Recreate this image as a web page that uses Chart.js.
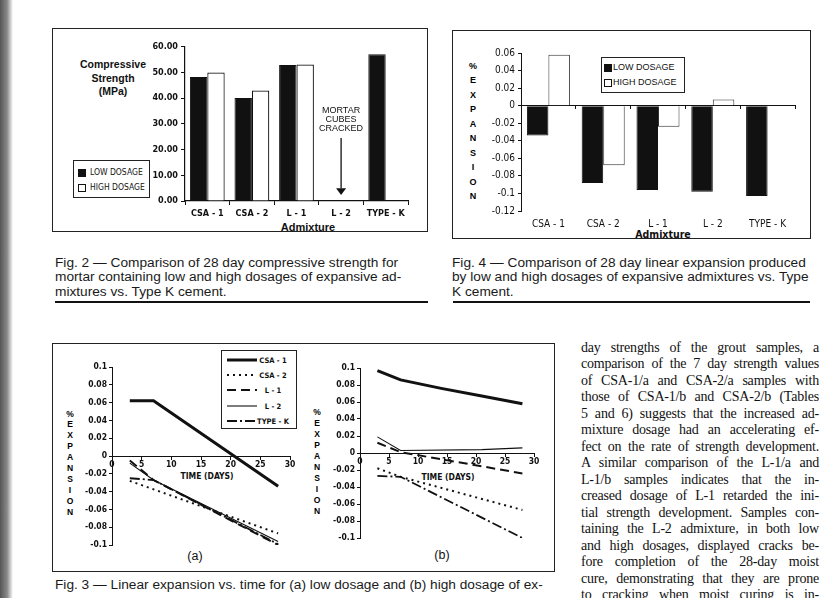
<!DOCTYPE html>
<html><head><meta charset="utf-8">
<script src="https://cdn.jsdelivr.net/npm/chart.js@4.4.1/dist/chart.umd.min.js"></script>
<style>
html,body{margin:0;padding:0;background:#fff;}
body{width:820px;height:598px;position:relative;overflow:hidden;font-family:'Liberation Sans',Arial,sans-serif;color:#111;}
.box{position:absolute;border:1.5px solid #222;box-sizing:border-box;}
.c{position:absolute;transform:translate(-50%,-50%);white-space:nowrap;}
.narrow{font-family:'Liberation Sans Narrow','Arial Narrow','DejaVu Sans Condensed',sans-serif;}
.cap{position:absolute;font-size:13.7px;line-height:14.4px;color:#1a1a1a;white-space:nowrap;}
.vert{position:absolute;transform:translateX(-50%);text-align:center;font-weight:bold;font-size:8.5px;color:#000;}
.bl{position:absolute;left:581px;width:238px;height:16.5px;line-height:16.5px;font-family:'Liberation Serif','Times New Roman',serif;font-size:14px;letter-spacing:-0.2px;word-spacing:-1px;text-align:justify;text-align-last:justify;color:#111;}
.rule{position:absolute;height:2px;background:#111;}
canvas{position:absolute;}
.leg{position:absolute;font-size:8.5px;white-space:nowrap;}
.sw{position:absolute;width:8px;height:8px;box-sizing:border-box;border:1px solid #111;}
</style></head>
<body>
<div style="position:absolute;left:0;top:0;width:13px;height:598px;background:linear-gradient(to right,#555,#8a8a8a 55%,#d8d8d8 85%,#fff);"></div>

<!-- frames -->
<div class="box" style="left:52px;top:28px;width:376px;height:204px;"></div>
<div class="box" style="left:452px;top:30px;width:359px;height:209px;"></div>
<div class="box" style="left:52px;top:343px;width:503px;height:229px;"></div>
<div class="rule" style="left:55px;top:301px;width:373px;"></div>
<div class="rule" style="left:453px;top:301px;width:357px;"></div>

<!-- Fig 2 labels -->
<div class="c" style="left:113px;top:78px;font-weight:bold;font-size:10.5px;line-height:13.5px;text-align:center;">Compressive<br>Strength<br>(MPa)</div>
<div class="c" style="left:308px;top:227px;font-weight:bold;font-size:11px;">Admixture</div>
<div class="box" style="left:73px;top:160px;width:77px;height:38px;border-width:1px;"></div>
<div class="sw" style="left:78px;top:169px;background:#111;"></div>
<div class="leg narrow" style="left:90px;top:167px;">LOW DOSAGE</div>
<div class="sw" style="left:78px;top:184px;background:#fff;"></div>
<div class="leg narrow" style="left:90px;top:182px;">HIGH DOSAGE</div>

<!-- Fig 4 labels -->
<div class="vert" style="left:473px;top:59px;line-height:14.44px;font-size:9px;">%<br>E<br>X<br>P<br>A<br>N<br>S<br>I<br>O<br>N</div>
<div class="c narrow" style="left:663px;top:234px;font-weight:bold;font-size:10.5px;">Admixture</div>
<div class="box" style="left:601px;top:57px;width:84px;height:36px;border-width:1px;"></div>
<div class="sw" style="left:604px;top:64px;background:#111;"></div>
<div class="leg" style="left:613px;top:62px;font-size:9px;">LOW DOSAGE</div>
<div class="sw" style="left:604px;top:79px;background:#fff;"></div>
<div class="leg" style="left:613px;top:77px;font-size:9px;">HIGH DOSAGE</div>

<!-- Fig 3 labels -->
<div class="vert" style="left:70px;top:408.5px;line-height:10.9px;">%<br>E<br>X<br>P<br>A<br>N<br>S<br>I<br>O<br>N</div>
<div class="vert" style="left:317px;top:406.8px;line-height:11.04px;">%<br>E<br>X<br>P<br>A<br>N<br>S<br>I<br>O<br>N</div>
<div class="c narrow" style="left:207px;top:476px;font-size:8.5px;font-weight:bold;">TIME (DAYS)</div>
<div class="c narrow" style="left:448px;top:477px;font-size:8.5px;font-weight:bold;">TIME (DAYS)</div>
<div class="c" style="left:195px;top:556px;font-size:12.5px;">(a)</div>
<div class="c" style="left:442px;top:555px;font-size:12.5px;">(b)</div>
<div class="box" id="leg3" style="left:221px;top:350px;width:76px;height:79px;border-width:1.2px;"></div>

<!-- captions -->
<div class="cap" style="left:55px;top:256px;">Fig. 2 — Comparison of 28 day compressive strength for<br>mortar containing low and high dosages of expansive ad-<br>mixtures vs. Type K cement.</div>
<div class="cap" style="left:452px;top:256px;">Fig. 4 — Comparison of 28 day linear expansion produced<br>by low and high dosages of expansive admixtures vs. Type<br>K cement.</div>
<div class="cap" style="left:55px;top:578px;">Fig. 3 — Linear expansion vs. time for (a) low dosage and (b) high dosage of ex-</div>

<div id="bodytext"></div>

<script>
// ---------- DATA ----------
const admixtures = ['CSA - 1', 'CSA - 2', 'L - 1', 'L - 2', 'TYPE - K'];
// Fig. 2: 28-day compressive strength (MPa)
const strengthLow  = [48.2, 40.0, 52.8, null, 57.0];
const strengthHigh = [49.9, 42.9, 53.0, null, null];
// Fig. 4: 28-day linear expansion (%)
const expansionLow  = [-0.034, -0.088, -0.096, -0.098, -0.103];
const expansionHigh = [0.058, -0.068, -0.024, 0.007, null];
// Fig. 3 series names
const fig3Series = ['CSA - 1', 'CSA - 2', 'L - 1', 'L - 2', 'TYPE - K'];
// Fig. 3(a) low dosage: days and % expansion
const lowDays = [[3, 7, 28], [3, 28], [3, 7, 28], [3, 7, 28], [3, 7, 28]];
const lowVals = [[0.062, 0.062, -0.034], [-0.028, -0.087], [-0.005, -0.027, -0.100], [-0.008, -0.027, -0.096], [-0.025, -0.027, -0.099]];
// Fig. 3(b) high dosage
const highDays = [[3, 7, 14, 21, 28], [3, 7, 28], [3, 7, 28], [3, 7, 21, 28], [3, 7, 28]];
const highVals = [[0.097, 0.086, 0.076, 0.067, 0.058], [-0.018, -0.028, -0.067], [0.012, 0.001, -0.024], [0.019, 0.003, 0.004, 0.006], [-0.027, -0.028, -0.100]];
const crackedNote = ['MORTAR', 'CUBES', 'CRACKED'];
const bodyLines = [
 'day strengths of the grout samples, a',
 'comparison of the 7 day strength values',
 'of CSA-1/a and CSA-2/a samples with',
 'those of CSA-1/b and CSA-2/b (Tables',
 '5 and 6) suggests that the increased ad-',
 'mixture dosage had an accelerating ef-',
 'fect on the rate of strength development.',
 'A similar comparison of the L-1/a and',
 'L-1/b samples indicates that the in-',
 'creased dosage of L-1 retarded the ini-',
 'tial strength development. Samples con-',
 'taining the L-2 admixture, in both low',
 'and high dosages, displayed cracks be-',
 'fore completion of the 28-day moist',
 'cure, demonstrating that they are prone',
 'to cracking when moist curing is in-'
];

// ---------- STYLES ----------
const INK = '#111';
const NARROW = "'Liberation Sans Narrow','Arial Narrow','DejaVu Sans Condensed',sans-serif";
const lineStyles = [
  {w: 3, dash: []},
  {w: 2, dash: [2, 4]},
  {w: 2, dash: [9, 5]},
  {w: 1.1, dash: []},
  {w: 1.8, dash: [10, 3, 2, 3]}
];

Chart.defaults.font.family = NARROW;
Chart.defaults.color = INK;
Chart.defaults.animation = false;
Chart.defaults.responsive = false;
Chart.defaults.devicePixelRatio = 1;
Chart.defaults.plugins.legend.display = false;
Chart.defaults.plugins.tooltip.enabled = false;

function mkCanvas(left, top, w, h) {
  const c = document.createElement('canvas');
  c.width = w; c.height = h;
  c.style.left = left + 'px'; c.style.top = top + 'px';
  document.body.appendChild(c);
  return c;
}
const fmt = v => { const r = Math.round(v * 100) / 100; return r === 0 ? '0' : String(r); };

// body text
const bt = document.getElementById('bodytext');
bodyLines.forEach((t, i) => {
  const d = document.createElement('div');
  d.className = 'bl';
  d.style.top = (348 - 8.25 + i * 16.5) + 'px';
  d.textContent = t;
  bt.appendChild(d);
});

// Fig 3 legend
const leg3 = document.getElementById('leg3');
fig3Series.forEach((name, i) => {
  const row = document.createElement('div');
  row.style.cssText = 'position:absolute;left:0;top:' + (3 + i * 15.2) + 'px;width:74px;height:12px;';
  const st = lineStyles[i];
  row.innerHTML = '<svg width="32" height="12" style="position:absolute;left:5px;top:0"><line x1="0" y1="6" x2="30" y2="6" stroke="#111" stroke-width="' + st.w + '" stroke-dasharray="' + (st.dash.length ? st.dash.join(',') : 'none') + '"/></svg>' +
    '<div class="narrow" style="position:absolute;left:51px;top:6px;transform:translate(-50%,-50%);font-size:7.5px;font-weight:bold;white-space:nowrap;">' + name + '</div>';
  leg3.appendChild(row);
});

// ---------- Fig. 2 ----------
const noteSpec = {lines: [35.3, 31.7, 28.2], arrowTop: 24.5, arrowTip: 2.3, headBase: 5.0};
const crackedPlugin = {
  id: 'cracked',
  afterDatasetsDraw(chart) {
    const {ctx, scales: {x, y}} = chart;
    const cx = x.getPixelForValue(admixtures.indexOf('L - 2'));
    ctx.save();
    ctx.fillStyle = INK; ctx.strokeStyle = INK;
    ctx.font = "9px 'Liberation Sans', Arial, sans-serif";
    ctx.textAlign = 'center'; ctx.textBaseline = 'middle';
    crackedNote.forEach((t, i) => ctx.fillText(t, cx, y.getPixelForValue(noteSpec.lines[i])));
    ctx.lineWidth = 1.3;
    ctx.beginPath();
    ctx.moveTo(cx, y.getPixelForValue(noteSpec.arrowTop));
    ctx.lineTo(cx, y.getPixelForValue(noteSpec.headBase));
    ctx.stroke();
    ctx.beginPath();
    ctx.moveTo(cx - 5, y.getPixelForValue(noteSpec.headBase));
    ctx.lineTo(cx + 5, y.getPixelForValue(noteSpec.headBase));
    ctx.lineTo(cx, y.getPixelForValue(noteSpec.arrowTip));
    ctx.closePath(); ctx.fill();
    ctx.restore();
  }
};
new Chart(mkCanvas(140, 36, 278, 185), {
  type: 'bar',
  data: {labels: admixtures, datasets: [
    {label: 'LOW DOSAGE', data: strengthLow, backgroundColor: INK, borderColor: INK, borderWidth: 1, categoryPercentage: 0.78, barPercentage: 1},
    {label: 'HIGH DOSAGE', data: strengthHigh, backgroundColor: '#fff', borderColor: INK, borderWidth: 1.2, categoryPercentage: 0.78, barPercentage: 1}
  ]},
  options: {
    layout: {padding: {left: 0, right: 10, top: 10.5, bottom: 0}},
    scales: {
      x: {grid: {offset: true, drawOnChartArea: false, tickLength: 4, color: INK}, border: {color: INK, width: 1.2},
          ticks: {font: {size: 9, weight: 'bold'}, padding: 3, color: INK},
          afterFit(s) { s.height = 20; s.paddingLeft = 0; s.paddingRight = 0; }},
      y: {min: 0, max: 60, ticks: {stepSize: 10, callback: v => v.toFixed(2), font: {size: 9, weight: 'bold'}, padding: 3, color: INK},
          grid: {drawOnChartArea: false, tickLength: 4, color: INK}, border: {color: INK, width: 1.2},
          afterFit(s) { s.width = 45; s.paddingTop = 0; s.paddingBottom = 0; }}
    }
  },
  plugins: [crackedPlugin]
});

// ---------- Fig. 4 ----------
new Chart(mkCanvas(478, 43, 327, 186), {
  type: 'bar',
  data: {labels: admixtures, datasets: [
    {label: 'LOW DOSAGE', data: expansionLow, backgroundColor: INK, borderColor: INK, borderWidth: 1, categoryPercentage: 0.785, barPercentage: 1},
    {label: 'HIGH DOSAGE', data: expansionHigh, backgroundColor: '#fff', borderColor: '#333', borderWidth: 1, categoryPercentage: 0.785, barPercentage: 1}
  ]},
  options: {
    layout: {padding: {left: 0, right: 10, top: 10, bottom: 0}},
    scales: {
      x: {grid: {display: false, drawTicks: false}, border: {display: false},
          ticks: {font: {size: 10}, padding: 7, color: INK},
          afterFit(s) { s.height = 18; s.paddingLeft = 0; s.paddingRight = 0; }},
      x2: {axis: 'x', type: 'category', labels: admixtures, position: {y: 0}, ticks: {display: false},
           grid: {offset: true, drawOnChartArea: false, tickLength: 3, color: INK}, border: {color: INK, width: 1},
           afterFit(s) { s.paddingLeft = 0; s.paddingRight = 0; }},
      y: {min: -0.12, max: 0.06, ticks: {stepSize: 0.02, callback: fmt, font: {size: 10}, padding: 3, color: INK},
          grid: {drawOnChartArea: false, tickLength: 3, color: INK}, border: {color: INK, width: 1},
          afterFit(s) { s.width = 43; s.paddingTop = 0; s.paddingBottom = 0; }}
    }
  }
});

// ---------- Fig. 3 ----------
function expansionChart(canvas, days, vals, padding) {
  return new Chart(canvas, {
    type: 'line',
    data: {datasets: fig3Series.map((name, i) => ({
      label: name,
      data: days[i].map((d, j) => ({x: d, y: vals[i][j]})),
      borderColor: INK, borderWidth: lineStyles[i].w, borderDash: lineStyles[i].dash,
      pointRadius: 0, fill: false, tension: 0
    }))},
    options: {
      layout: {padding},
      scales: {
        x: {type: 'linear', position: {y: 0}, min: 0, max: 30,
            ticks: {stepSize: 5, font: {size: 8.5, weight: 'bold'}, padding: 1, color: INK},
            grid: {drawOnChartArea: false, tickLength: 3, color: INK}, border: {color: INK, width: 1},
            afterFit(s) { s.paddingLeft = 0; s.paddingRight = 0; }},
        y: {min: -0.1, max: 0.1, ticks: {stepSize: 0.02, callback: fmt, font: {size: 8.5, weight: 'bold'}, padding: 2, color: INK},
            grid: {drawOnChartArea: false, tickLength: 3, color: INK}, border: {color: INK, width: 1},
            afterFit(s) { s.width = 42; s.paddingTop = 0; s.paddingBottom = 0; }}
      }
    }
  });
}
expansionChart(mkCanvas(70, 357, 230, 198), lowDays, lowVals, {left: 0, right: 10, top: 10, bottom: 10});
expansionChart(mkCanvas(318, 358, 226, 190), highDays, highVals, {left: 0, right: 10, top: 10, bottom: 10});
</script>
</body></html>
